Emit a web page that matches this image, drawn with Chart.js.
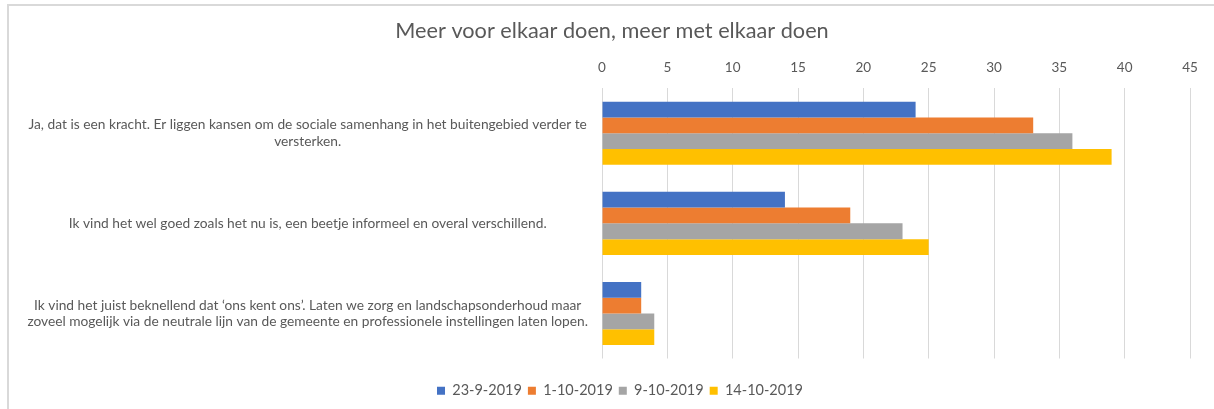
<!DOCTYPE html>
<html lang="nl">
<head>
  <meta charset="UTF-8" />
  <title>Meer voor elkaar doen, meer met elkaar doen</title>
  <script src="https://cdn.jsdelivr.net/npm/chart.js"></script>
  <style>
    html, body { margin: 0; padding: 0; background: #fff; overflow: hidden; }
    #frame {
      position: absolute; left: 7px; top: 4px; width: 1300px; height: 500px;
      border-left: 2px solid #d9d9d9; border-top: 2px solid #d9d9d9;
    }
    #wrap { position: absolute; left: 0; top: 0; width: 1214px; height: 409px; }
  </style>
</head>
<body>
  <div id="frame"></div>
  <div id="wrap"><canvas id="chart"></canvas></div>

  <script>
    const title = 'Meer voor elkaar doen, meer met elkaar doen';
    const categories = [
      ['Ja, dat is een kracht. Er liggen kansen om de sociale samenhang in het buitengebied verder te', 'versterken.'],
      'Ik vind het wel goed zoals het nu is, een beetje informeel en overal verschillend.',
      ['Ik vind het juist beknellend dat \u2018ons kent ons\u2019. Laten we zorg en landschapsonderhoud maar',
       'zoveel mogelijk via de neutrale lijn van de gemeente en professionele instellingen laten lopen.']
    ];
    const seriesNames = ['23-9-2019', '1-10-2019', '9-10-2019', '14-10-2019'];
    const seriesColors = ['#4472C4', '#ED7D31', '#A5A5A5', '#FFC000'];
    const values23sep = [24, 14, 3];
    const values1oct = [33, 19, 3];
    const values9oct = [36, 23, 4];
    const values14oct = [39, 25, 4];
    const allValues = [values23sep, values1oct, values9oct, values14oct];

    const textColor = '#595959';
    const family = 'Lato, "Open Sans", sans-serif';

    // title and legend are centred a bit right of the canvas middle in the original
    const shiftBoxes = {
      id: 'shiftBoxes',
      afterLayout(chart) {
        chart.titleBlock.left = 34;
        chart.legend.left = 50;
      }
    };

    const ctx = document.getElementById('chart').getContext('2d');
    new Chart(ctx, {
      type: 'bar',
      data: {
        labels: categories,
        datasets: seriesNames.map((name, i) => ({
          label: name,
          data: allValues[i],
          backgroundColor: seriesColors[i],
          borderWidth: 0,
          categoryPercentage: 0.7,
          barPercentage: 1.0
        }))
      },
      options: {
        indexAxis: 'y',
        responsive: true,
        maintainAspectRatio: false,
        animation: false,
        layout: { padding: { left: 20, right: 24, top: 0, bottom: 1 } },
        plugins: {
          title: {
            display: true,
            text: title,
            color: textColor,
            font: { family, size: 21.7, weight: 'normal' },
            padding: { top: 18, bottom: 4 }
          },
          legend: {
            position: 'bottom',
            labels: {
              color: textColor,
              font: { family, size: 14.5 },
              boxWidth: 8,
              boxHeight: 8,
              padding: 6
            }
          },
          tooltip: { enabled: false }
        },
        scales: {
          x: {
            position: 'top',
            min: 0,
            max: 45,
            ticks: { stepSize: 5, color: textColor, font: { family, size: 13.5 }, padding: 12 },
            grid: { color: '#d9d9d9', drawTicks: false },
            border: { display: false }
          },
          // empty bottom axis, only used as room between the bars and the legend
          gap: {
            type: 'linear',
            position: 'bottom',
            ticks: { display: false },
            grid: { display: false, drawTicks: false },
            border: { display: false },
            afterFit: s => { s.height = 19; }
          },
          y: {
            ticks: { color: textColor, font: { family, size: 13.75 }, padding: 14, crossAlign: 'center' },
            grid: { display: false, drawTicks: false },
            border: { display: false },
            afterFit: s => { s.width = 582; }
          }
        }
      },
      plugins: [shiftBoxes]
    });
  </script>
</body>
</html>
